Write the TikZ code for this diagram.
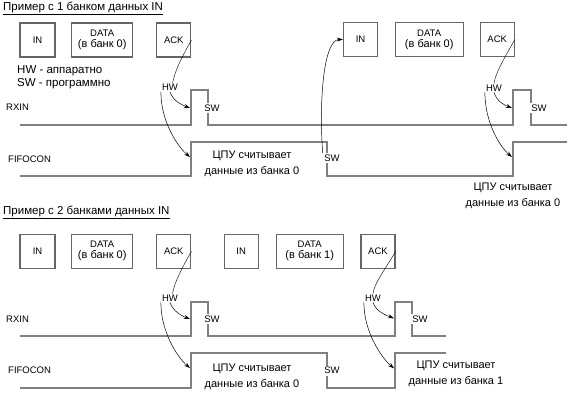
\documentclass[tikz,border=0pt]{standalone}
\usepackage{fontspec}
\setmainfont{Liberation Sans}
\usetikzlibrary{positioning}
\usetikzlibrary{arrows.meta}

\begin{document}
\begin{tikzpicture}[x=1pt,y=-1pt,
        box/.style={draw=black!60,line width=1.3pt,minimum height=34pt,inner sep=0pt,align=center,font=\fontsize{9.5}{11}\selectfont},
        lbl/.style={font=\fontsize{9.5}{10}\selectfont,inner sep=1pt},
        swlbl/.style={lbl,fill=white,inner sep=1.5pt},
        txt/.style={font=\fontsize{11}{16}\selectfont,align=center,inner sep=0pt},
        sig/.style={draw=black!50,line width=1.3pt},
        arr/.style={-{Stealth[length=6pt,width=4pt]},line width=0.5pt}]
        \useasboundingbox (0,0) rectangle (569,401);

        % example with one bank
        \node[anchor=west,inner sep=0pt,font=\fontsize{11.5}{13}\selectfont] (title1) at (3,8) {\underline{Пример с 1 банком данных IN}};
        \node[box,minimum width=35pt] (in1) at (37.5,40) {IN};
        \node[box,minimum width=61pt] (data1) at (102.2,40) {DATA\\{\fontsize{11}{12}\selectfont (в банк 0)}};
        \node[box,minimum width=34pt] (ack1) at (173.8,40) {ACK};
        \node[box,minimum width=34pt] (in2) at (360.5,39.5) {IN};
        \node[box,minimum width=68pt] (data2) at (429.2,39.5) {DATA\\{\fontsize{11}{12}\selectfont (в банк 0)}};
        \node[box,minimum width=34pt] (ack2) at (497.2,39.5) {ACK};
        \node[anchor=west,inner sep=0pt,align=left,font=\fontsize{11.5}{13}\selectfont] (legend) at (17,77.5) {HW - аппаратно\\SW - программно};

        \node[lbl,anchor=west] (rxin1) at (5,107) {RXIN};
        \node[lbl,anchor=west] (fifo1) at (7,159) {FIFOCON};
        \draw[sig] (20,125) -- (191,125) -- (191,90) -- (208,90) -- (208,125) -- (513,125) -- (513,90) -- (531,90) -- (531,125) -- (567,125);
        \draw[sig] (20,176) -- (191,176) -- (191,142) -- (327,142) -- (327,176) -- (513,176) -- (513,142) -- (567,142);
        \coordinate (rxa) at (190,108);
        \coordinate (fca) at (190,157);
        \coordinate (rxb) at (512,108);
        \coordinate (fcb) at (512,157);

        \node[lbl] (hw1) at (170,87.5) {HW};
        \node[lbl] (hw2) at (494,88) {HW};
        \node[swlbl] (swr1) at (212,108) {SW};
        \node[swlbl] (swf1) at (332,158) {SW};
        \node[swlbl] (swr2) at (539,108) {SW};
        \node[txt] (cpu1) at (252,164) {ЦПУ считывает\\данные из банка 0};
        \node[txt] (cpu2) at (513,195.5) {ЦПУ считывает\\данные из банка 0};

        \draw (ack1.east) .. controls +(-8,14) and +(2,-12) .. (hw1.60);
        \draw[arr] (hw1.south) .. controls +(3,9) and +(-8,-3) .. (rxa);
        \draw[arr] (hw1.south west) .. controls +(0,30) and +(-12,-10) .. (fca);
        \draw[arr] (swf1.north west) .. controls +(-4,-60) and +(-18,0) .. (in2.west);
        \draw (ack2.east) .. controls +(-8,14) and +(1,-10) .. (hw2.north);
        \draw[arr] (hw2.south) .. controls +(3,9) and +(-8,-3) .. (rxb);
        \draw[arr] (hw2.south west) .. controls +(0,30) and +(-12,-10) .. (fcb);

        % example with two banks
        \node[anchor=west,inner sep=0pt,font=\fontsize{11.5}{13}\selectfont] (title2) at (3,212) {\underline{Пример с 2 банками данных IN}};
        \node[box,minimum width=35pt] (in3) at (37.5,251.3) {IN};
        \node[box,minimum width=61pt] (data3) at (102.2,251.3) {DATA\\{\fontsize{11}{12}\selectfont (в банк 0)}};
        \node[box,minimum width=34pt] (ack3) at (173.8,251.3) {ACK};
        \node[box,minimum width=34pt] (in4) at (241.2,251.3) {IN};
        \node[box,minimum width=67pt] (data4) at (309.7,251.3) {DATA\\{\fontsize{11}{12}\selectfont (в банк 1)}};
        \node[box,minimum width=34pt] (ack4) at (378,251.3) {ACK};

        \node[lbl,anchor=west] (rxin2) at (5,319) {RXIN};
        \node[lbl,anchor=west] (fifo2) at (7,370.7) {FIFOCON};
        \draw[sig] (20,336) -- (191,336) -- (191,302) -- (208,302) -- (208,336) -- (395,336) -- (395,302) -- (412,302) -- (412,336) -- (446,336);
        \draw[sig] (20,388) -- (191,388) -- (191,353) -- (327,353) -- (327,388) -- (395,388) -- (395,353) -- (446,353);
        \coordinate (rxc) at (190,319);
        \coordinate (fcc) at (190,368);
        \coordinate (rxd) at (394,318.3);
        \coordinate (fcd) at (394,368.3);

        \node[lbl] (hw3) at (170,298) {HW};
        \node[lbl] (hw4) at (373,298) {HW};
        \node[swlbl] (swr3) at (212,319.3) {SW};
        \node[swlbl] (swf3) at (332,370.7) {SW};
        \node[swlbl] (swr4) at (420,319) {SW};
        \node[txt] (cpu3) at (252,377) {ЦПУ считывает\\данные из банка 0};
        \node[txt] (cpu4) at (456,374) {ЦПУ считывает\\данные из банка 1};

        \draw (ack3.east) .. controls +(-8,14) and +(2,-12) .. (hw3.60);
        \draw[arr] (hw3.south) .. controls +(3,9) and +(-8,-3) .. (rxc);
        \draw[arr] (hw3.south west) .. controls +(0,30) and +(-12,-10) .. (fcc);
        \draw (ack4.east) .. controls +(-8,14) and +(1,-10) .. (hw4.north);
        \draw[arr] (hw4.south) .. controls +(3,9) and +(-8,-3) .. (rxd);
        \draw[arr] (hw4.south west) .. controls +(0,30) and +(-12,-10) .. (fcd);
    \end{tikzpicture}
\end{document}
